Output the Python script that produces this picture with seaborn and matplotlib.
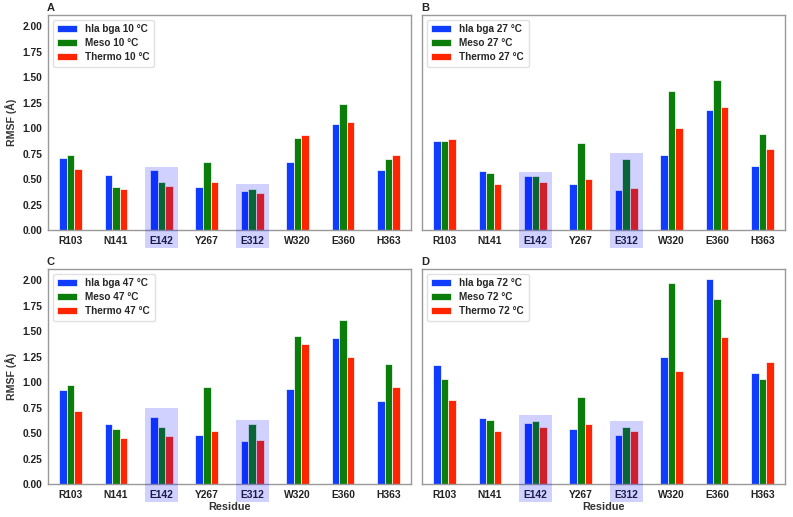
import matplotlib
matplotlib.use("Agg")
import matplotlib.pyplot as plt
import matplotlib.patches as mpatches
import seaborn as sns
import pandas as pd

residues = ["R103", "N141", "E142", "Y267", "E312", "W320", "E360", "H363"]
series = ["hla bga", "Meso", "Thermo"]
temps = ["10", "27", "47", "72"]
panel_letters = ["A", "B", "C", "D"]

# RMSF values (Å) per temperature: hla bga, Meso, Thermo
hla_10 = [0.705, 0.54, 0.59, 0.42, 0.385, 0.672, 1.039, 0.59]
meso_10 = [0.738, 0.426, 0.469, 0.672, 0.40, 0.90, 1.239, 0.695]
thermo_10 = [0.597, 0.40, 0.436, 0.475, 0.36, 0.934, 1.059, 0.738]

hla_27 = [0.875, 0.58, 0.531, 0.452, 0.393, 0.741, 1.174, 0.626]
meso_27 = [0.869, 0.561, 0.534, 0.856, 0.698, 1.367, 1.469, 0.941]
thermo_27 = [0.898, 0.449, 0.472, 0.498, 0.413, 0.997, 1.203, 0.797]

hla_47 = [0.921, 0.587, 0.662, 0.479, 0.42, 0.934, 1.436, 0.813]
meso_47 = [0.967, 0.544, 0.557, 0.948, 0.593, 1.456, 1.607, 1.18]
thermo_47 = [0.721, 0.452, 0.472, 0.518, 0.433, 1.37, 1.243, 0.954]

hla_72 = [1.164, 0.646, 0.60, 0.538, 0.479, 1.243, 2.013, 1.089]
meso_72 = [1.026, 0.633, 0.623, 0.849, 0.561, 1.974, 1.816, 1.026]
thermo_72 = [0.82, 0.525, 0.557, 0.593, 0.521, 1.105, 1.446, 1.197]

panel_values = [
    (hla_10, meso_10, thermo_10),
    (hla_27, meso_27, thermo_27),
    (hla_47, meso_47, thermo_47),
    (hla_72, meso_72, thermo_72),
]

# highlighted residues and the tops of their highlight boxes per panel
highlight_residues = ["E142", "E312"]
highlight_tops = [
    [0.62, 0.45],
    [0.57, 0.757],
    [0.744, 0.63],
    [0.675, 0.623],
]

colors = ["#0f3cff", "#0a7d0a", "#ff2500"]

sns.set_style("white")
plt.rcParams["font.family"] = ["Liberation Sans", "DejaVu Sans"]
plt.rcParams["font.weight"] = "bold"

fig, axes = plt.subplots(2, 2, figsize=(7.93, 5.17), dpi=100, sharey=True)
fig.subplots_adjust(left=0.0605, right=0.99, top=0.971, bottom=0.0638,
                    wspace=0.03, hspace=0.181)

for k, ax in enumerate(axes.flat):
    vals = panel_values[k]
    rows = []
    for s, v in zip(series, vals):
        label = f"{s} {temps[k]} °C"
        for r, y in zip(residues, v):
            rows.append({"Residue": r, "RMSF": y, "Series": label})
    df = pd.DataFrame(rows)
    sns.barplot(data=df, x="Residue", y="RMSF", hue="Series", order=residues,
                palette=colors, saturation=1, width=0.5, edgecolor="white",
                linewidth=0.5, ax=ax, errorbar=None)
    ax.set_xlim(-0.5, 7.5)
    ax.set_ylim(0, 2.11)
    ax.set_yticks([0, 0.25, 0.5, 0.75, 1.0, 1.25, 1.5, 1.75, 2.0])
    ax.set_yticklabels([f"{t:.2f}" for t in ax.get_yticks()])
    ax.tick_params(axis="both", labelsize=7.4, length=0, pad=4, colors="#222222")
    for lab in ax.get_xticklabels() + ax.get_yticklabels():
        lab.set_fontweight("bold")
    for sp in ax.spines.values():
        sp.set_color("0.6")
        sp.set_linewidth(1.0)
    ax.set_title(panel_letters[k], loc="left", fontsize=8, fontweight="bold",
                 pad=3, x=-0.003)
    if k % 2 == 0:
        ax.set_ylabel("RMSF (Å)", fontsize=7.6, fontweight="bold", color="#333333")
    else:
        ax.set_ylabel("")
        ax.tick_params(axis="y", labelleft=False)
    if k >= 2:
        ax.set_xlabel("Residue", fontsize=7.8, fontweight="bold", color="#333333",
                      labelpad=1.5)
    else:
        ax.set_xlabel("")
    leg = ax.legend(loc="upper left", fontsize=7.2, frameon=True, edgecolor="0.85",
                    fancybox=True, handlelength=2.0, borderpad=0.45,
                    labelspacing=0.4, handletextpad=0.8)
    for t in leg.get_texts():
        t.set_fontweight("bold")
    for r, top in zip(highlight_residues, highlight_tops[k]):
        i = residues.index(r)
        rect = mpatches.Rectangle((i - 0.36, -0.175), 0.72, top + 0.175,
                                  facecolor="blue", alpha=0.18, edgecolor="none",
                                  clip_on=False, zorder=5)
        ax.add_patch(rect)

fig.savefig("out.png", dpi=100)
